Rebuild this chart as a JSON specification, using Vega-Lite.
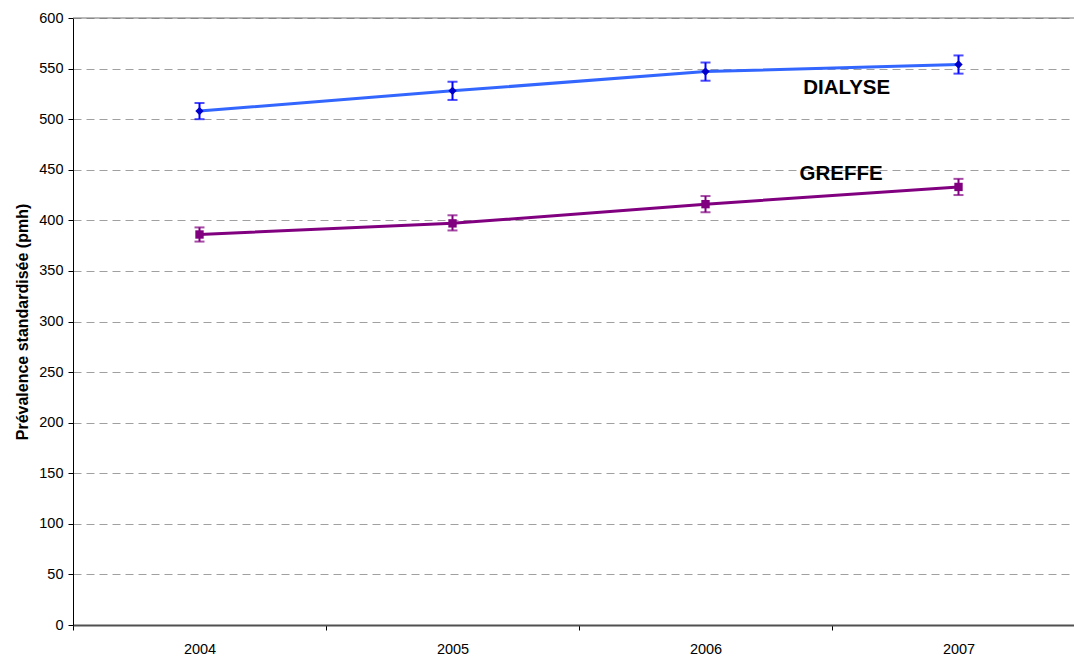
{
  "$schema": "https://vega.github.io/schema/vega-lite/v6.json",
  "width": 1001,
  "height": 607,
  "autosize": {"type": "none"},
  "padding": {"left": 73, "top": 18, "right": 0, "bottom": 32},
  "background": "white",
  "config": {
    "view": {"stroke": null},
    "font": "Liberation Sans",
    "axis": {"labelFont": "Liberation Sans", "titleFont": "Liberation Sans", "labelColor": "black", "titleColor": "black", "labelFontSize": 14.5},
    "axisY": {"titleFontSize": 16, "titleFontWeight": "bold", "titlePadding": 8, "labelFontSize": 14.5, "labelPadding": 5, "tickSize": 5, "tickColor": "black", "domainColor": "black", "domainWidth": 1, "grid": true, "gridColor": "#a0a0a0", "gridDash": [8, 5], "gridWidth": 1}
  },
  "datasets": {
    "series": [
      {"annee": 2004, "serie": "DIALYSE", "val": 508, "lo": 500, "hi": 516},
      {"annee": 2005, "serie": "DIALYSE", "val": 528, "lo": 519, "hi": 537},
      {"annee": 2006, "serie": "DIALYSE", "val": 547, "lo": 538, "hi": 556},
      {"annee": 2007, "serie": "DIALYSE", "val": 554, "lo": 545, "hi": 563},
      {"annee": 2004, "serie": "GREFFE", "val": 386, "lo": 379, "hi": 393},
      {"annee": 2005, "serie": "GREFFE", "val": 397, "lo": 390, "hi": 405},
      {"annee": 2006, "serie": "GREFFE", "val": 416, "lo": 408, "hi": 424},
      {"annee": 2007, "serie": "GREFFE", "val": 433, "lo": 425, "hi": 441}
    ],
    "labels": [
      {"serie": "DIALYSE", "x": 2006.558, "y": 530.5},
      {"serie": "GREFFE", "x": 2006.536, "y": 445.6}
    ],
    "ticks": [{"t": 2003.5}, {"t": 2004.5}, {"t": 2005.5}, {"t": 2006.5}],
    "top": [{"v": 600}]
  },
  "resolve": {"axis": {"x": "independent"}, "scale": {"color": "independent", "shape": "independent"}},
  "layer": [
    {
      "data": {"name": "ticks"},
      "mark": {"type": "point", "opacity": 0},
      "encoding": {
        "x": {"field": "t", "type": "quantitative", "scale": {"domain": [2003.5, 2007.4565], "nice": false, "zero": false},
          "axis": {"orient": "bottom", "values": [2003.5, 2004.5, 2005.5, 2006.5], "labels": false, "title": null, "grid": false, "domain": false, "ticks": true, "tickColor": "black", "tickSize": 5, "tickWidth": 1}},
        "y": {"datum": 0, "type": "quantitative", "scale": {"domain": [0, 600], "nice": false},
          "axis": {"values": [0, 50, 100, 150, 200, 250, 300, 350, 400, 450, 500, 550, 600], "title": "Prévalence standardisée (pmh)"}}
      }
    },
    {
      "data": {"name": "top"},
      "mark": {"type": "rule", "color": "#707070", "strokeWidth": 1},
      "encoding": {
        "y": {"field": "v", "type": "quantitative"}
      }
    },
    {
      "data": {"name": "series"},
      "mark": {"type": "line", "strokeWidth": 3},
      "encoding": {
        "x": {"field": "annee", "type": "quantitative",
          "axis": {"orient": "bottom", "values": [2004, 2005, 2006, 2007], "format": "d", "ticks": false, "title": null, "grid": false, "labelFontSize": 14.5, "labelPadding": 17, "domainColor": "#505050", "domainWidth": 2}},
        "y": {"field": "val", "type": "quantitative"},
        "color": {"field": "serie", "type": "nominal", "scale": {"domain": ["DIALYSE", "GREFFE"], "range": ["#3366FF", "#800080"]}, "legend": null}
      }
    },
    {
      "data": {"name": "series"},
      "layer": [
        {
          "mark": {"type": "rule", "strokeWidth": 2},
          "encoding": {
            "x": {"field": "annee", "type": "quantitative", "axis": null},
            "y": {"field": "lo", "type": "quantitative"},
            "y2": {"field": "hi"}
          }
        },
        {
          "mark": {"type": "tick", "orient": "horizontal", "size": 10, "thickness": 2},
          "encoding": {
            "x": {"field": "annee", "type": "quantitative", "axis": null},
            "y": {"field": "lo", "type": "quantitative"}
          }
        },
        {
          "mark": {"type": "tick", "orient": "horizontal", "size": 10, "thickness": 2},
          "encoding": {
            "x": {"field": "annee", "type": "quantitative", "axis": null},
            "y": {"field": "hi", "type": "quantitative"}
          }
        }
      ],
      "encoding": {
        "color": {"field": "serie", "type": "nominal", "scale": {"domain": ["DIALYSE", "GREFFE"], "range": ["#0000FF", "#800080"]}, "legend": null}
      }
    },
    {
      "data": {"name": "series"},
      "mark": {"type": "point", "filled": true, "opacity": 1, "size": 70},
      "encoding": {
        "x": {"field": "annee", "type": "quantitative", "axis": null},
        "y": {"field": "val", "type": "quantitative"},
        "shape": {"field": "serie", "type": "nominal", "scale": {"domain": ["DIALYSE", "GREFFE"], "range": ["diamond", "square"]}, "legend": null},
        "color": {"field": "serie", "type": "nominal", "scale": {"domain": ["DIALYSE", "GREFFE"], "range": ["#0000CC", "#800080"]}, "legend": null}
      }
    },
    {
      "data": {"name": "labels"},
      "mark": {"type": "text", "fontSize": 20.5, "fontWeight": "bold", "color": "black", "align": "center", "baseline": "middle", "font": "Liberation Sans"},
      "encoding": {
        "x": {"field": "x", "type": "quantitative", "axis": null},
        "y": {"field": "y", "type": "quantitative"},
        "text": {"field": "serie"}
      }
    }
  ]
}
